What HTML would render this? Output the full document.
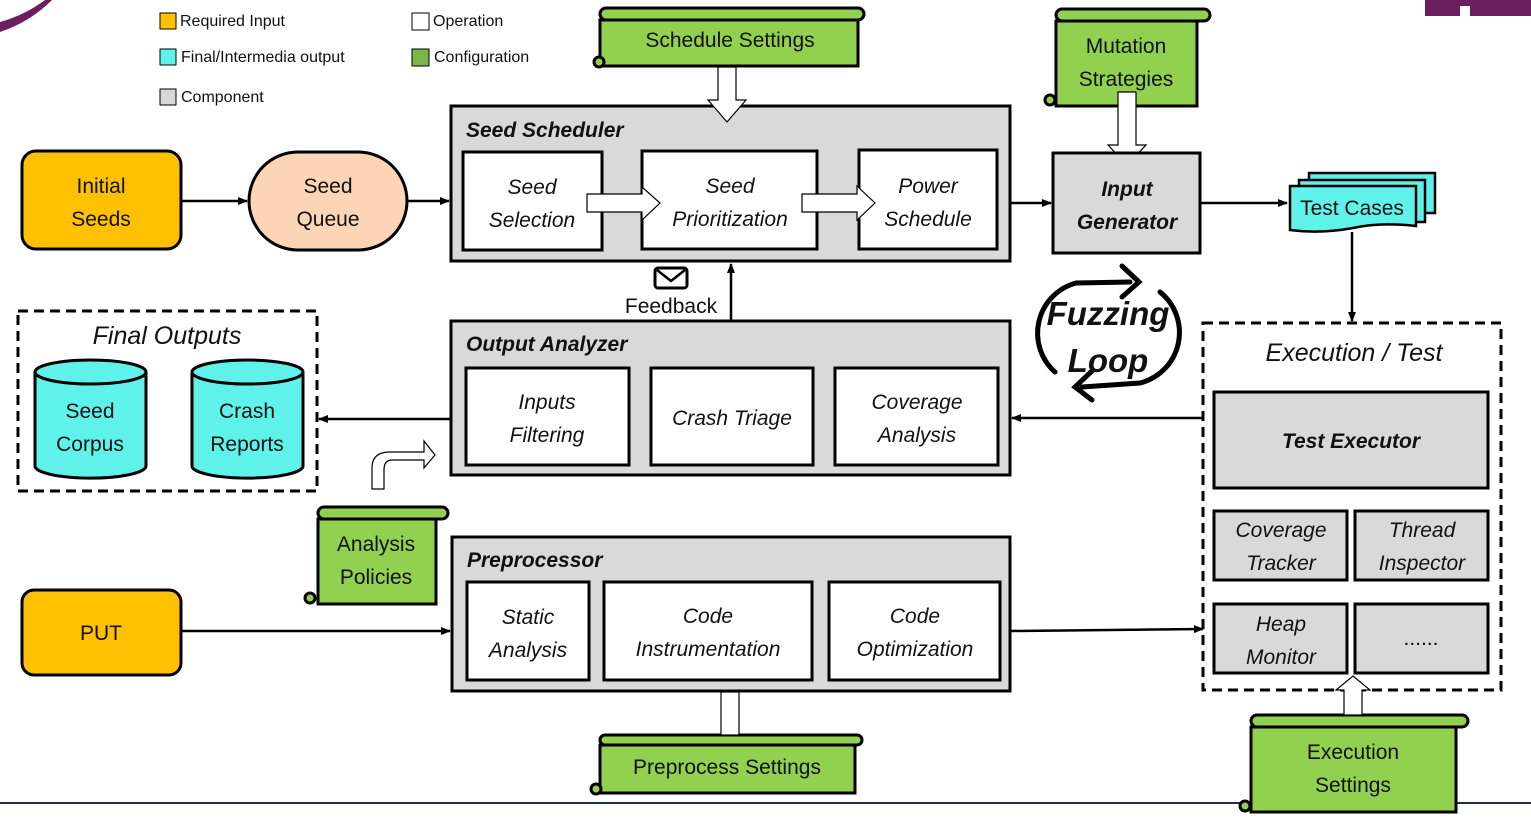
<!DOCTYPE html>
<html><head><meta charset="utf-8"><style>
html,body{margin:0;padding:0;background:#fff;}
svg{display:block;}
text{font-family:"Liberation Sans","DejaVu Sans",sans-serif;font-size:21px;fill:#111;}
.i{font-style:italic;}
.b{font-weight:bold;font-style:italic;}
.lg{font-size:16px;}
</style></head><body>
<svg width="1531" height="826" viewBox="0 0 1531 826" xmlns="http://www.w3.org/2000/svg">
<defs>
<marker id="ah" markerWidth="10" markerHeight="10" refX="9" refY="5" orient="auto" markerUnits="userSpaceOnUse"><path d="M0,1 L10,5 L0,9 z" fill="#000"/></marker>
</defs>
<path d="M0,22 Q25,15 45,0 L52,0 Q30,22 0,32 z" fill="#6b1f5e"/>
<text x="3" y="20" style="font-size:11px;fill:#fff" transform="rotate(-20 3 20)">NIV</text>
<path d="M1425,0 L1531,0 L1531,16 L1470,16 L1470,6 L1460,6 L1460,16 L1425,16 z" fill="#6b1f5e"/>
<rect x="160" y="13" width="16" height="16" fill="#FFC000" stroke="#000"/><text class="lg" x="180" y="26">Required Input</text>
<rect x="160" y="49" width="16" height="16" fill="#5ff2ea" stroke="#000"/><text class="lg" x="181" y="62">Final/Intermedia output</text>
<rect x="160" y="89" width="16" height="16" fill="#d9d9d9" stroke="#000"/><text class="lg" x="181" y="102">Component</text>
<rect x="412" y="13" width="17" height="17" fill="#fff" stroke="#000"/><text class="lg" x="433" y="26">Operation</text>
<rect x="412" y="49" width="17" height="17" fill="#7ab648" stroke="#000"/><text class="lg" x="434" y="62">Configuration</text>

<line x1="0" y1="803" x2="1531" y2="803" stroke="#17304d" stroke-width="2"/>

<g stroke="#000" stroke-width="3" fill="#92d050">
<rect x="600" y="8" width="264" height="12" rx="6"/><rect x="600" y="20" width="258" height="46"/><circle cx="599" cy="62" r="5"/>
<rect x="1056" y="9" width="154" height="12" rx="6"/><rect x="1056" y="21" width="141" height="85"/><circle cx="1050" cy="100" r="5"/>
<rect x="318" y="507" width="130" height="12" rx="6"/><rect x="318" y="519" width="118" height="85"/><circle cx="310" cy="598" r="5"/>
<rect x="600" y="735" width="262" height="10" rx="5"/><rect x="600" y="745" width="255" height="48"/><circle cx="596" cy="789" r="5"/>
<rect x="1251" y="715" width="217" height="12" rx="6"/><rect x="1251" y="727" width="205" height="85"/><circle cx="1245" cy="806" r="5"/>
</g>
<text x="730" y="47" text-anchor="middle">Schedule Settings</text>
<text x="1126" y="53" text-anchor="middle">Mutation</text><text x="1126" y="86" text-anchor="middle">Strategies</text>
<text x="376" y="551" text-anchor="middle">Analysis</text><text x="376" y="584" text-anchor="middle">Policies</text>
<text x="727" y="774" text-anchor="middle">Preprocess Settings</text>
<text x="1353" y="759" text-anchor="middle">Execution</text><text x="1353" y="792" text-anchor="middle">Settings</text>

<rect x="451" y="106" width="559" height="155" fill="#d9d9d9" stroke="#000" stroke-width="3"/>
<text class="b" x="466" y="137">Seed Scheduler</text>
<g fill="#fff" stroke="#000" stroke-width="3">
<rect x="463" y="152" width="139" height="98"/>
<rect x="642" y="151" width="175" height="98"/>
<rect x="859" y="150" width="138" height="99"/>
</g>
<text class="i" x="532" y="194" text-anchor="middle">Seed</text><text class="i" x="532" y="227" text-anchor="middle">Selection</text>
<text class="i" x="730" y="193" text-anchor="middle">Seed</text><text class="i" x="730" y="226" text-anchor="middle">Prioritization</text>
<text class="i" x="928" y="193" text-anchor="middle">Power</text><text class="i" x="928" y="226" text-anchor="middle">Schedule</text>
<path d="M587,194 L642,194 L642,187 L660,203 L642,220 L642,212 L587,212 z" fill="#fff" stroke="#000" stroke-width="1.2"/>
<path d="M802,194 L857,194 L857,186 L875,203 L857,220 L857,212 L802,212 z" fill="#fff" stroke="#000" stroke-width="1.2"/>
<path d="M718,67 L736,67 L736,100 L746,100 L727,122 L708,100 L718,100 z" fill="#fff" stroke="#000" stroke-width="1.2"/>
<path d="M1118,92 L1136,92 L1136,145 L1146,145 L1127,165 L1108,145 L1118,145 z" fill="#fff" stroke="#000" stroke-width="1.2"/>

<rect x="22" y="151" width="159" height="98" rx="14" fill="#FFC000" stroke="#000" stroke-width="3"/>
<text x="101" y="193" text-anchor="middle">Initial</text><text x="101" y="226" text-anchor="middle">Seeds</text>
<rect x="249" y="152" width="158" height="98" rx="49" fill="#fbd5b5" stroke="#000" stroke-width="3"/>
<text x="328" y="193" text-anchor="middle">Seed</text><text x="328" y="226" text-anchor="middle">Queue</text>
<g stroke="#000" stroke-width="2.5" marker-end="url(#ah)" fill="none">
<line x1="181" y1="201" x2="247" y2="201"/>
<line x1="407" y1="201" x2="449" y2="201"/>
<line x1="1010" y1="203" x2="1051" y2="203"/>
<line x1="1200" y1="203" x2="1287" y2="203"/>
<line x1="1352" y1="232" x2="1352" y2="321"/>
<line x1="1203" y1="418" x2="1012" y2="418"/>
<line x1="451" y1="419" x2="319" y2="419"/>
<line x1="731" y1="321" x2="731" y2="264"/>
<line x1="181" y1="631" x2="450" y2="631"/>
<line x1="1010" y1="631" x2="1203" y2="629"/>
</g>

<rect x="1053" y="153" width="147" height="100" fill="#d9d9d9" stroke="#000" stroke-width="3"/>
<text class="b" x="1127" y="196" text-anchor="middle">Input</text><text class="b" x="1127" y="229" text-anchor="middle">Generator</text>

<g fill="#5ff2ea" stroke="#000" stroke-width="2.5">
<rect x="1309" y="173" width="126" height="40"/>
<rect x="1299" y="180" width="126" height="42"/>
<path d="M1290,186 L1416,186 L1416,226 Q1380,222 1353,228 Q1320,234 1290,230 z"/>
</g>
<text x="1352" y="215" text-anchor="middle">Test Cases</text>

<rect x="655" y="268" width="32" height="20" rx="3" fill="#fff" stroke="#000" stroke-width="3"/>
<path d="M657,270 L671,281 L685,270" fill="none" stroke="#000" stroke-width="2.5"/>
<text x="671" y="313" text-anchor="middle">Feedback</text>

<path d="M1055,372 A52,52 0 0 1 1076,283 L1130,282" fill="none" stroke="#000" stroke-width="5" stroke-linecap="round"/>
<path d="M1122,266 L1139,282 L1122,297" fill="none" stroke="#000" stroke-width="5" stroke-linecap="round"/>
<path d="M1160,292 A52,52 0 0 1 1140,383 L1082,387" fill="none" stroke="#000" stroke-width="5" stroke-linecap="round"/>
<path d="M1092,371 L1075,387 L1092,400" fill="none" stroke="#000" stroke-width="5" stroke-linecap="round"/>
<text class="b" x="1108" y="325" text-anchor="middle" style="font-size:33px">Fuzzing</text>
<text class="b" x="1108" y="372" text-anchor="middle" style="font-size:33px">Loop</text>

<rect x="18" y="311" width="299" height="180" fill="none" stroke="#000" stroke-width="3" stroke-dasharray="10,6"/>
<text class="i" x="167" y="344" text-anchor="middle" style="font-size:25px">Final Outputs</text>
<g fill="#5ff2ea" stroke="#000" stroke-width="3">
<path d="M35,372 L35,466 A55,12 0 0 0 146,466 L146,372"/><ellipse cx="90.5" cy="372" rx="55.5" ry="12"/>
<path d="M192,372 L192,466 A55,12 0 0 0 303,466 L303,372"/><ellipse cx="247.5" cy="372" rx="55.5" ry="12"/>
</g>
<text x="90" y="418" text-anchor="middle">Seed</text><text x="90" y="451" text-anchor="middle">Corpus</text>
<text x="247" y="418" text-anchor="middle">Crash</text><text x="247" y="451" text-anchor="middle">Reports</text>

<path d="M372,489 L372,468 Q372,452 390,452 L424,452 L424,441 L435,455 L424,468 L424,460 L392,460 Q384,460 384,470 L384,489 z" fill="#fff" stroke="#000" stroke-width="1.2"/>

<rect x="451" y="321" width="559" height="154" fill="#d9d9d9" stroke="#000" stroke-width="3"/>
<text class="b" x="466" y="351">Output Analyzer</text>
<g fill="#fff" stroke="#000" stroke-width="3">
<rect x="466" y="368" width="163" height="97"/>
<rect x="651" y="368" width="162" height="97"/>
<rect x="835" y="368" width="163" height="97"/>
</g>
<text class="i" x="547" y="409" text-anchor="middle">Inputs</text><text class="i" x="547" y="442" text-anchor="middle">Filtering</text>
<text class="i" x="732" y="425" text-anchor="middle">Crash Triage</text>
<text class="i" x="917" y="409" text-anchor="middle">Coverage</text><text class="i" x="917" y="442" text-anchor="middle">Analysis</text>

<rect x="452" y="537" width="558" height="154" fill="#d9d9d9" stroke="#000" stroke-width="3"/>
<text class="b" x="467" y="567">Preprocessor</text>
<g fill="#fff" stroke="#000" stroke-width="3">
<rect x="467" y="582" width="122" height="98"/>
<rect x="604" y="582" width="208" height="98"/>
<rect x="829" y="582" width="171" height="98"/>
</g>
<text class="i" x="528" y="624" text-anchor="middle">Static</text><text class="i" x="528" y="657" text-anchor="middle">Analysis</text>
<text class="i" x="708" y="623" text-anchor="middle">Code</text><text class="i" x="708" y="656" text-anchor="middle">Instrumentation</text>
<text class="i" x="915" y="623" text-anchor="middle">Code</text><text class="i" x="915" y="656" text-anchor="middle">Optimization</text>
<rect x="721" y="692" width="18" height="43" fill="#fff" stroke="#000" stroke-width="1.2"/>

<rect x="22" y="590" width="159" height="85" rx="12" fill="#FFC000" stroke="#000" stroke-width="3"/>
<text x="101" y="640" text-anchor="middle">PUT</text>

<rect x="1203" y="323" width="298" height="367" fill="none" stroke="#000" stroke-width="3" stroke-dasharray="10,6"/>
<text class="i" x="1354" y="361" text-anchor="middle" style="font-size:25px">Execution / Test</text>
<g fill="#d9d9d9" stroke="#000" stroke-width="3">
<rect x="1214" y="392" width="274" height="96"/>
<rect x="1214" y="511" width="133" height="69"/>
<rect x="1355" y="511" width="133" height="69"/>
<rect x="1214" y="604" width="133" height="69"/>
<rect x="1355" y="604" width="133" height="69"/>
</g>
<text class="b" x="1351" y="448" text-anchor="middle">Test Executor</text>
<text class="i" x="1281" y="537" text-anchor="middle">Coverage</text><text class="i" x="1281" y="570" text-anchor="middle">Tracker</text>
<text class="i" x="1422" y="537" text-anchor="middle">Thread</text><text class="i" x="1422" y="570" text-anchor="middle">Inspector</text>
<text class="i" x="1281" y="631" text-anchor="middle">Heap</text><text class="i" x="1281" y="664" text-anchor="middle">Monitor</text>
<text x="1421" y="645" text-anchor="middle">......</text>
<path d="M1344,715 L1344,690 L1336,690 L1353,676 L1370,690 L1362,690 L1362,715 z" fill="#fff" stroke="#000" stroke-width="1.2"/>
</svg>
</body></html>
